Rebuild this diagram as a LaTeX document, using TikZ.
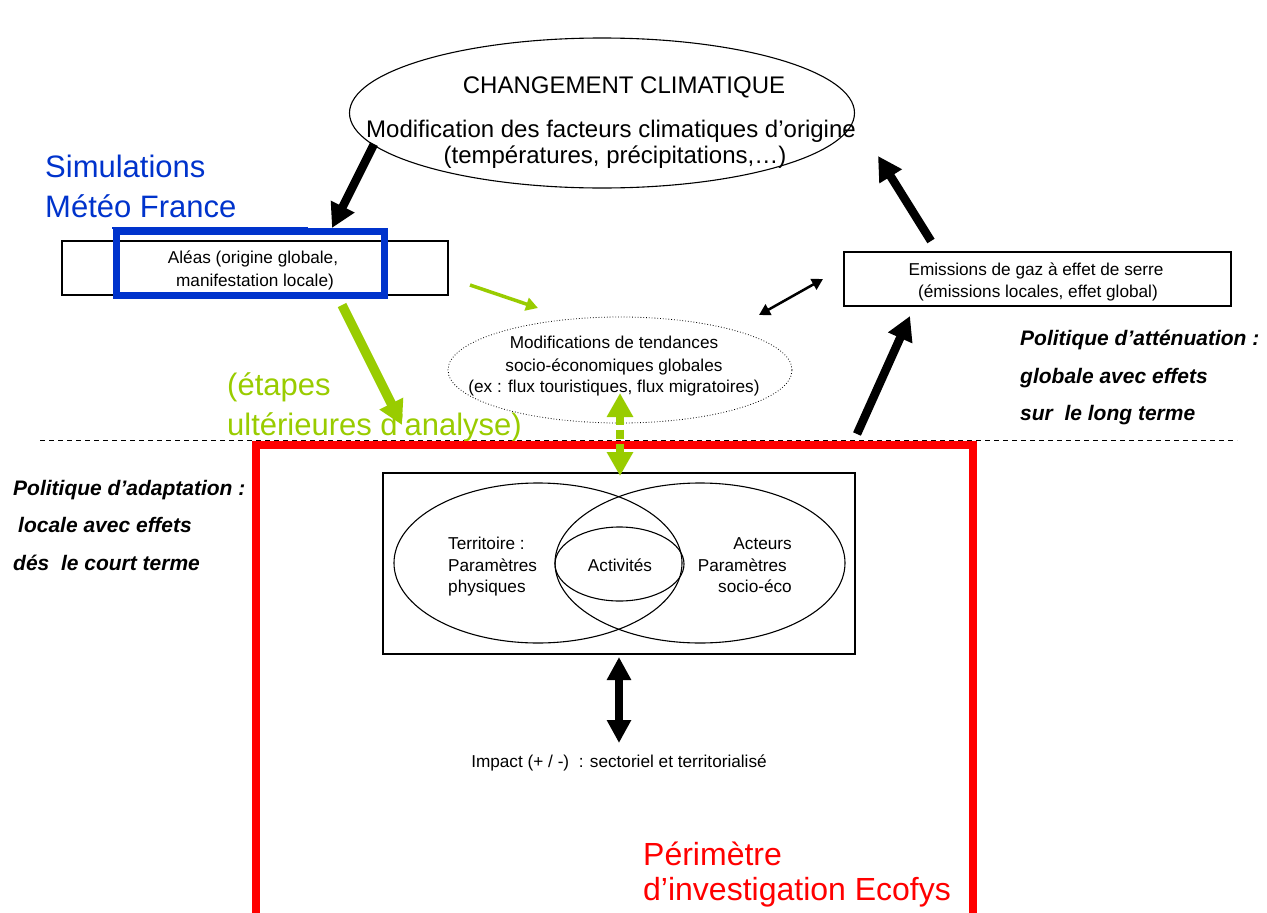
\documentclass[tikz,border=0pt]{standalone}
\usepackage{fontspec}
\setmainfont{Liberation Sans}
\usetikzlibrary{arrows.meta,shapes.geometric}
\definecolor{vert}{RGB}{153,204,0}
\definecolor{bleu}{RGB}{0,51,204}
\definecolor{rouge}{RGB}{255,0,0}
\begin{document}
\begin{tikzpicture}[x=1pt,y=-1pt,
  thin box/.style={draw, line width=1.1pt, inner sep=0},
  big txt/.style={font=\fontsize{24}{28}\selectfont, inner sep=0},
  small txt/.style={font=\fontsize{17.2}{22}\selectfont, inner sep=0},
  col txt/.style={font=\fontsize{31}{36}\selectfont, inner sep=0},
  red txt/.style={font=\fontsize{32}{36}\selectfont, inner sep=0, text=rouge, anchor=base west},
  pol txt/.style={font=\fontsize{21}{25}\selectfont\bfseries\itshape, inner sep=0, anchor=base west},
  heavy/.style={line width=8.5pt, -{Triangle[length=24pt,width=25pt]}},
  heavy2/.style={line width=7.5pt, {Triangle[length=23pt,width=23pt]}-{Triangle[length=23pt,width=23pt]}},
  greenthin/.style={vert, line width=3.5pt, -{Triangle[length=12pt,width=13pt]}},
  greenthick/.style={vert, line width=9.5pt, -{Triangle[length=24pt,width=25pt]}},
  greendash/.style={vert, line width=8pt, dash pattern=on 9pt off 5pt, {Triangle[length=24pt,width=25pt]}-{Triangle[length=24pt,width=25pt]}},
  blackthin/.style={line width=2.5pt, {Triangle[length=11pt,width=12pt]}-{Triangle[length=11pt,width=12pt]}}
]
\useasboundingbox (0,0) rectangle (1267,913);

% dashed separation line
\coordinate (dl) at (40,440);
\coordinate (dr) at (1237,440);
\draw[line width=1pt, dash pattern=on 5pt off 4pt] (dl) -- (dr);

% big ellipse
\node[thin box, ellipse, minimum width=505pt, minimum height=150pt] (clim) at (602,113) {};
\node[big txt, anchor=base] (c1) at (624,93) {CHANGEMENT CLIMATIQUE};
\node[big txt, anchor=base] (c2) at (611,137) {Modification des facteurs climatiques d’origine};
\node[big txt, anchor=base] (c3) at (615,163) {(températures, précipitations,…)};

% Simulations
\node[col txt, text=bleu, anchor=base west] (s1) at (45,177) {Simulations};
\node[col txt, text=bleu, anchor=base west] (s2) at (45,217) {Météo France};

% Aléas box + blue frame
\node[thin box, minimum width=386pt, minimum height=54pt] (aleas) at (255,268) {};
\draw[bleu, line width=7pt] (116,231) rectangle (384,295);
\coordinate (bl1) at (112,228);
\coordinate (bl2) at (308,228);
\draw[bleu, line width=1.5pt] (bl1) -- (bl2);
\node[small txt, anchor=base] (al1) at (253,263) {Aléas (origine globale,};
\node[small txt, anchor=base] (al2) at (255,286) {manifestation locale)};

% Emissions box
\node[thin box, minimum width=387pt, minimum height=54pt] (emis) at (1037.5,279) {};
\node[small txt, anchor=base] (e1) at (1036,275) {Emissions de gaz à effet de serre};
\node[small txt, anchor=base] (e2) at (1038,297) {(émissions locales, effet global)};

% Modifications ellipse
\node[draw, line width=0.8pt, dotted, ellipse, minimum width=344pt, minimum height=106pt, inner sep=0] (modif) at (620,370) {};
\node[small txt, anchor=base] (m1) at (614,348) {Modifications de tendances};
\node[small txt, anchor=base] (m2) at (614,371) {socio-économiques globales};
\node[small txt, anchor=base] (m3) at (614,392) {(ex : flux touristiques, flux migratoires)};

% green text
\node[col txt, text=vert, anchor=base west] (g1) at (227,395) {(étapes};
\node[col txt, text=vert, anchor=base west] (g2) at (227,435) {ultérieures d’analyse)};

% policy texts
\node[pol txt] (pr1) at (1020,345) {Politique d’atténuation :};
\node[pol txt] (pr2) at (1020,383) {globale avec effets};
\node[pol txt] (pr3) at (1020,420) {sur\ \ le long terme};
\node[pol txt] (pl1) at (13,495) {Politique d’adaptation :};
\node[pol txt] (pl2) at (18,532) {locale avec effets};
\node[pol txt] (pl3) at (13,570) {dés\ \ le court terme};

% red perimeter
\draw[rouge, line width=8pt] (256,445) rectangle (973,917);
\node[red txt] (r1) at (643,865) {Périmètre};
\node[red txt] (r2) at (643,900) {d’investigation Ecofys};

% Venn box
\node[thin box, minimum width=472pt, minimum height=181pt] (venn) at (619,563.5) {};
\node[thin box, ellipse, minimum width=288pt, minimum height=160pt] (terr) at (538,563) {};
\node[thin box, ellipse, minimum width=290pt, minimum height=160pt] (act) at (700,563) {};
\node[thin box, ellipse, minimum width=129pt, minimum height=74pt] (activ) at (619.5,564) {};
\node[small txt, anchor=base west] (v1) at (448,549) {Territoire :};
\node[small txt, anchor=base west] (v2) at (448,571) {Paramètres};
\node[small txt, anchor=base west] (v3) at (448,592) {physiques};
\node[small txt, anchor=base] (v4) at (620,571) {Activités};
\node[small txt, anchor=base east] (v5) at (792,549) {Acteurs};
\node[small txt, anchor=base east] (v6) at (787,571) {Paramètres};
\node[small txt, anchor=base east] (v7) at (792,592) {socio-éco};

% Impact
\node[small txt, anchor=base] (imp) at (619,767) {Impact (+ / -)\ \ : sectoriel et territorialisé};

% arrows
\coordinate (a1s) at (374,144); \coordinate (a1e) at (332,228);
\draw[heavy] (a1s) -- (a1e);
\coordinate (a6s) at (931,241); \coordinate (a6e) at (878,156);
\draw[heavy] (a6s) -- (a6e);
\coordinate (a7s) at (857,434); \coordinate (a7e) at (910,316);
\draw[heavy] (a7s) -- (a7e);
\coordinate (a5s) at (759,315); \coordinate (a5e) at (823,279);
\draw[blackthin] (a5s) -- (a5e);
\coordinate (a2s) at (470,285); \coordinate (a2e) at (538,308);
\draw[greenthin] (a2s) -- (a2e);
\coordinate (a3s) at (342,305); \coordinate (a3e) at (402,425);
\draw[greenthick] (a3s) -- (a3e);
\coordinate (a4s) at (620,393); \coordinate (a4e) at (620,476);
\draw[greendash] (a4s) -- (a4e);
\coordinate (a8s) at (619,657); \coordinate (a8e) at (619,743);
\draw[heavy2] (a8s) -- (a8e);
\end{tikzpicture}
\end{document}
